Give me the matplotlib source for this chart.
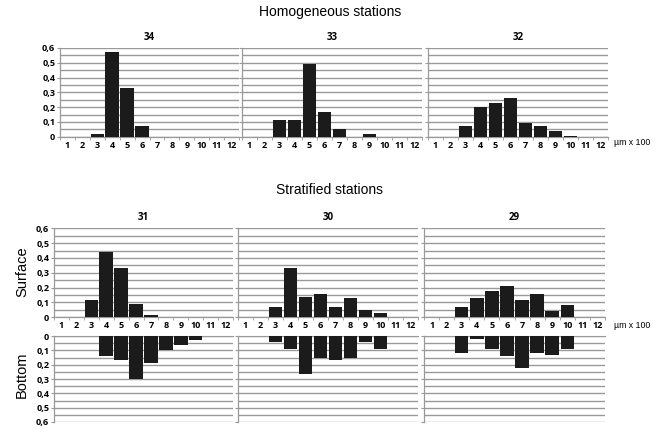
import numpy as np
import matplotlib
matplotlib.use("Agg")
import matplotlib.pyplot as plt
from matplotlib.ticker import MultipleLocator, FixedLocator

# size classes (x 100 um)
sizes = np.arange(1, 13)
size_labels = [str(s) for s in sizes]
ytick_vals = [0, 0.1, 0.2, 0.3, 0.4, 0.5, 0.6]
ytick_labels = ["0", "0,1", "0,2", "0,3", "0,4", "0,5", "0,6"]

# homogeneous stations
st34 = [0, 0, 0.02, 0.57, 0.33, 0.07, 0, 0, 0, 0, 0, 0]
st33 = [0, 0, 0.11, 0.11, 0.49, 0.17, 0.05, 0, 0.02, 0, 0, 0]
st32 = [0, 0, 0.07, 0.20, 0.23, 0.265, 0.095, 0.075, 0.04, 0.005, 0, 0]

# stratified stations
st31_surf = [0, 0, 0.12, 0.44, 0.33, 0.09, 0.015, 0, 0, 0, 0, 0]
st31_bot = [0, 0, 0, 0.14, 0.17, 0.30, 0.19, 0.10, 0.06, 0.03, 0, 0]
st30_surf = [0, 0, 0.07, 0.33, 0.14, 0.16, 0.07, 0.13, 0.05, 0.03, 0, 0]
st30_bot = [0, 0, 0.04, 0.09, 0.265, 0.15, 0.17, 0.15, 0.04, 0.09, 0, 0]
st29_surf = [0, 0, 0.07, 0.13, 0.18, 0.21, 0.12, 0.16, 0.04, 0.08, 0, 0]
st29_bot = [0, 0, 0.12, 0.02, 0.09, 0.14, 0.22, 0.12, 0.13, 0.09, 0.003, 0]

W, H = 653, 429
fig = plt.figure(figsize=(W / 100, H / 100), dpi=100)

GRID = "#999999"
BAR = "#1b1b1b"
TICKFONT = dict(family="Open Sans", weight="bold", size=6.5)


def px_axes(x0, y0, x1, y1):
    # pixel box (top-left origin) -> figure axes
    return fig.add_axes([x0 / W, 1 - y1 / H, (x1 - x0) / W, (y1 - y0) / H])


def style(ax, vals, ylabels=True, xlabels=True, invert=False):
    ax.bar(sizes, vals, width=0.9, color=BAR, zorder=3)
    ax.set_xlim(0.5, 12.5)
    if invert:
        ax.set_ylim(0.6, 0)
    else:
        ax.set_ylim(0, 0.6)
    ax.yaxis.set_minor_locator(MultipleLocator(0.05))
    ax.grid(True, axis="y", which="both", color=GRID, lw=1.0, zorder=0)
    ax.set_yticks(ytick_vals)
    if ylabels:
        ax.set_yticklabels(ytick_labels, **TICKFONT)
    else:
        ax.set_yticklabels([])
    ax.tick_params(axis="y", which="major", length=2.5, color=GRID, pad=1)
    ax.tick_params(axis="y", which="minor", length=0)
    ax.set_xticks(sizes)
    ax.xaxis.set_minor_locator(FixedLocator(np.arange(0.5, 13, 1)))
    ax.tick_params(axis="x", which="major", length=0, pad=3)
    ax.tick_params(axis="x", which="minor", length=2.5, color=GRID,
                   direction="out")
    if xlabels:
        ax.set_xticklabels(size_labels, **TICKFONT)
    else:
        ax.set_xticklabels([])
    for side in ["top", "right"]:
        ax.spines[side].set_visible(False)
    ax.spines["left"].set_color(GRID)
    ax.spines["bottom"].set_color(GRID)
    ax.spines["left"].set_linewidth(0.9)
    ax.spines["bottom"].set_linewidth(0.9)
    if invert:
        ax.spines["bottom"].set_visible(False)
        ax.spines["top"].set_visible(True)
        ax.spines["top"].set_color(GRID)
        ax.xaxis.set_ticks_position("top")
        ax.tick_params(axis="x", which="minor", length=0)


def ptitle(ax, txt):
    ax.set_title(txt, **dict(TICKFONT, size=7), pad=6)


# top row: homogeneous
top_boxes = [(60, 48, 239, 136.7), (242, 48, 422, 136.7), (428, 48, 608, 136.7)]
top_data = [st34, st33, st32]
top_names = ["34", "33", "32"]
for i, (box, vals, name) in enumerate(zip(top_boxes, top_data, top_names)):
    ax = px_axes(*box)
    style(ax, vals, ylabels=(i == 0))
    ptitle(ax, name)

# bottom rows: stratified
xs = [(54, 233), (238, 418), (424, 605)]
surf_data = [st31_surf, st30_surf, st29_surf]
bot_data = [st31_bot, st30_bot, st29_bot]
names = ["31", "30", "29"]
for i, ((x0, x1), sv, bv, name) in enumerate(zip(xs, surf_data, bot_data, names)):
    ax = px_axes(x0, 228.3, x1, 317.3)
    style(ax, sv, ylabels=(i == 0))
    ptitle(ax, name)
    axb = px_axes(x0, 336, x1, 422)
    style(axb, bv, ylabels=(i == 0), xlabels=False, invert=True)

fig.text(330 / W, 1 - 12 / H, "Homogeneous stations", ha="center", va="center",
         family="Liberation Sans", size=10)
fig.text(330 / W, 1 - 190 / H, "Stratified stations", ha="center", va="center",
         family="Liberation Sans", size=10)
fig.text(22 / W, 1 - 272 / H, "Surface", ha="center", va="center", rotation=90,
         family="Liberation Sans", size=10.5)
fig.text(22 / W, 1 - 375 / H, "Bottom", ha="center", va="center", rotation=90,
         family="Liberation Sans", size=10.5)
fig.text(614 / W, 1 - 143 / H, "µm x 100", ha="left", va="center",
         family="Liberation Sans", size=6.3)
fig.text(614 / W, 1 - 326 / H, "µm x 100", ha="left", va="center",
         family="Liberation Sans", size=6.3)

fig.savefig("out.png", dpi=100)
